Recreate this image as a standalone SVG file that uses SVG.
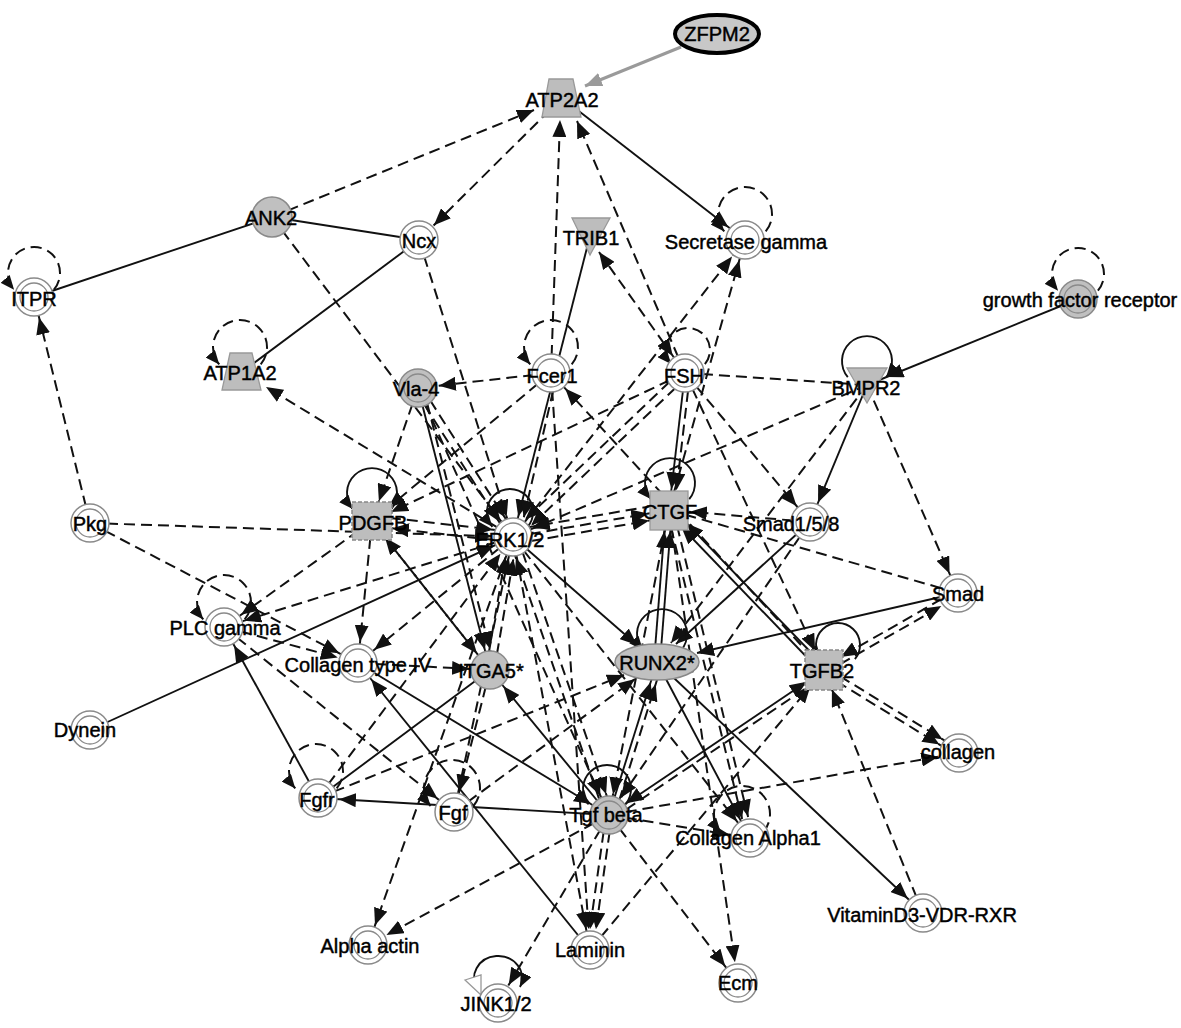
<svg xmlns="http://www.w3.org/2000/svg" width="1181" height="1028" viewBox="0 0 1181 1028">
<style>
.s{stroke:#111;stroke-width:1.9;fill:none}
.d{stroke:#111;stroke-width:2;fill:none;stroke-dasharray:11 6}
.zf{stroke:#9a9a9a;stroke-width:3;fill:none}
.o{fill:#fff;stroke:#8a8a8a;stroke-width:1.5}
.og{fill:#c0c0c0;stroke:#8a8a8a;stroke-width:1.5}
.i{fill:none;stroke:#8a8a8a;stroke-width:1.3}
.sh{fill:#bdbdbd;stroke:#999;stroke-width:1.3}
.shd{fill:#bdbdbd;stroke:#888;stroke-width:1.5;stroke-dasharray:4 2}
.t{font-family:"Liberation Sans",Arial,sans-serif;font-size:20px;fill:#000;stroke:#000;stroke-width:0.45;text-anchor:middle}
</style>
<defs>
<marker id="a" markerUnits="userSpaceOnUse" markerWidth="17" markerHeight="14" refX="38" refY="7" orient="auto-start-reverse"><path d="M0,0 L17,7 L0,14 z" fill="#111"/></marker>
<marker id="b" markerUnits="userSpaceOnUse" markerWidth="17" markerHeight="14" refX="17" refY="7" orient="auto-start-reverse"><path d="M0,0 L17,7 L0,14 z" fill="#111"/></marker>
<marker id="g" markerUnits="userSpaceOnUse" markerWidth="17" markerHeight="14" refX="17" refY="7" orient="auto"><path d="M0,0 L17,7 L0,14 z" fill="#9a9a9a"/></marker>
<marker id="l" markerUnits="userSpaceOnUse" markerWidth="14" markerHeight="12" refX="14" refY="6" orient="auto"><path d="M0,0 L14,6 L0,12 z" fill="#111"/></marker>
</defs>
<rect width="1181" height="1028" fill="#fff"/>
<g id="connectors">
<line class="zf" x1="681" y1="47" x2="585" y2="86" marker-end="url(#g)"/>
<line class="s" x1="272" y1="217" x2="34" y2="297"/>
<line class="s" x1="272" y1="217" x2="419" y2="240"/>
<line class="s" x1="419" y1="240" x2="242" y2="372"/>
<line class="s" x1="562" y1="98" x2="745" y2="240" marker-end="url(#a)"/>
<line class="s" x1="590" y1="236" x2="513" y2="537" marker-end="url(#a)"/>
<line class="s" x1="1078" y1="299" x2="867" y2="385" marker-end="url(#a)"/>
<line class="s" x1="867" y1="385" x2="810" y2="522" marker-end="url(#a)"/>
<line class="s" x1="685" y1="373" x2="669" y2="510" marker-end="url(#a)"/>
<line class="s" x1="810" y1="522" x2="676" y2="644" marker-end="url(#b)"/>
<line class="s" x1="958" y1="593" x2="697" y2="653" marker-end="url(#b)"/>
<line class="s" x1="657" y1="662" x2="923" y2="913" marker-end="url(#a)"/>
<line class="s" x1="654" y1="662" x2="666" y2="510" marker-end="url(#a)"/>
<line class="s" x1="660" y1="662" x2="672" y2="510" marker-end="url(#a)"/>
<line class="s" x1="609" y1="815" x2="657" y2="662" marker-end="url(#a)"/>
<line class="s" x1="513" y1="537" x2="637" y2="645" marker-end="url(#b)"/>
<line class="s" x1="609" y1="815" x2="824" y2="670" marker-start="url(#a)" marker-end="url(#a)"/>
<line class="s" x1="609" y1="815" x2="490" y2="670" marker-end="url(#a)"/>
<line class="s" x1="358" y1="663" x2="609" y2="815" marker-end="url(#a)"/>
<line class="s" x1="590" y1="950" x2="358" y2="663" marker-end="url(#a)"/>
<line class="s" x1="609" y1="815" x2="318" y2="798" marker-end="url(#a)"/>
<line class="s" x1="318" y1="798" x2="490" y2="670"/>
<line class="s" x1="318" y1="798" x2="224" y2="627" marker-end="url(#a)"/>
<line class="s" x1="90" y1="730" x2="513" y2="537" marker-end="url(#a)"/>
<line class="s" x1="418" y1="388" x2="490" y2="670" marker-end="url(#a)"/>
<line class="s" x1="657" y1="662" x2="750" y2="838" marker-end="url(#a)"/>
<line class="s" x1="672" y1="508" x2="826" y2="668" marker-start="url(#a)"/>
<line class="s" x1="667" y1="512" x2="821" y2="672" marker-start="url(#a)"/>

<line class="d" x1="272" y1="217" x2="534" y2="110" marker-end="url(#b)"/>
<line class="d" x1="562" y1="98" x2="419" y2="240" marker-end="url(#a)"/>
<line class="d" x1="551" y1="373" x2="560" y2="120" marker-end="url(#b)"/>
<line class="d" x1="685" y1="373" x2="577" y2="121" marker-end="url(#b)"/>
<line class="d" x1="599" y1="252" x2="685" y2="373" marker-start="url(#b)" marker-end="url(#a)"/>
<line class="d" x1="272" y1="217" x2="513" y2="537" marker-end="url(#a)"/>
<line class="d" x1="419" y1="240" x2="513" y2="537" marker-end="url(#a)"/>
<line class="d" x1="90" y1="523" x2="34" y2="297" marker-end="url(#a)"/>
<line class="d" x1="90" y1="523" x2="513" y2="537" marker-end="url(#a)"/>
<line class="d" x1="90" y1="523" x2="358" y2="663" marker-end="url(#a)"/>
<line class="d" x1="372" y1="521" x2="224" y2="627" marker-end="url(#a)"/>
<line class="d" x1="372" y1="521" x2="358" y2="663" marker-end="url(#a)"/>
<line class="d" x1="513" y1="537" x2="224" y2="627" marker-end="url(#a)"/>
<line class="d" x1="224" y1="627" x2="454" y2="812" marker-end="url(#a)"/>
<line class="d" x1="224" y1="627" x2="358" y2="663" marker-end="url(#a)"/>
<line class="d" x1="358" y1="663" x2="490" y2="670" marker-end="url(#a)"/>
<line class="d" x1="513" y1="537" x2="266" y2="387" marker-end="url(#b)"/>
<line class="d" x1="551" y1="373" x2="418" y2="388" marker-end="url(#a)"/>
<line class="d" x1="418" y1="388" x2="372" y2="521" marker-end="url(#a)"/>
<line class="d" x1="421" y1="386" x2="516" y2="535" marker-end="url(#a)"/>
<line class="d" x1="415" y1="390" x2="510" y2="539" marker-end="url(#a)"/>
<line class="d" x1="423" y1="387" x2="495" y2="669" marker-end="url(#a)"/>
<line class="d" x1="551" y1="373" x2="590" y2="950" marker-end="url(#a)"/>
<line class="d" x1="824" y1="670" x2="551" y2="373" marker-end="url(#a)"/>
<line class="d" x1="513" y1="537" x2="745" y2="240" marker-end="url(#a)"/>
<line class="d" x1="669" y1="510" x2="745" y2="240" marker-end="url(#a)"/>
<line class="d" x1="685" y1="373" x2="867" y2="385"/>
<line class="d" x1="688" y1="376" x2="516" y2="540" marker-end="url(#a)"/>
<line class="d" x1="682" y1="370" x2="510" y2="534" marker-end="url(#a)"/>
<line class="d" x1="690" y1="374" x2="674" y2="511" marker-end="url(#a)"/>
<line class="d" x1="685" y1="373" x2="810" y2="522" marker-end="url(#a)"/>
<line class="d" x1="685" y1="373" x2="824" y2="670" marker-end="url(#a)"/>
<line class="d" x1="867" y1="385" x2="671" y2="643" marker-end="url(#b)"/>
<line class="d" x1="867" y1="385" x2="513" y2="537" marker-end="url(#a)"/>
<line class="d" x1="867" y1="385" x2="958" y2="593" marker-end="url(#a)"/>
<line class="d" x1="810" y1="522" x2="669" y2="510" marker-end="url(#a)"/>
<line class="d" x1="513" y1="537" x2="669" y2="510" marker-end="url(#a)"/>
<line class="d" x1="514" y1="544" x2="670" y2="517" marker-end="url(#a)"/>
<line class="d" x1="670" y1="503" x2="512" y2="530" marker-end="url(#a)"/>
<line class="d" x1="669" y1="510" x2="609" y2="815" marker-end="url(#a)"/>
<line class="d" x1="673" y1="509" x2="753" y2="837" marker-end="url(#a)"/>
<line class="d" x1="667" y1="511" x2="747" y2="839" marker-end="url(#a)"/>
<line class="d" x1="669" y1="510" x2="738" y2="983" marker-end="url(#a)"/>
<line class="d" x1="825.5" y1="672.6" x2="959.5" y2="595.6" marker-end="url(#a)"/>
<line class="d" x1="956.5" y1="590.4" x2="822.5" y2="667.4" marker-end="url(#a)"/>
<line class="d" x1="825.6" y1="667.4" x2="960.6" y2="750.4" marker-end="url(#a)"/>
<line class="d" x1="822.4" y1="672.6" x2="957.4" y2="755.6" marker-end="url(#a)"/>
<line class="d" x1="923" y1="913" x2="824" y2="670" marker-end="url(#a)"/>
<line class="d" x1="609" y1="815" x2="959" y2="753" marker-end="url(#a)"/>
<line class="d" x1="612" y1="819" x2="827" y2="674"/>
<line class="d" x1="614" y1="817" x2="662" y2="664" marker-end="url(#a)"/>
<line class="d" x1="318" y1="798" x2="624" y2="675" marker-end="url(#b)"/>
<line class="d" x1="454" y1="812" x2="513" y2="537" marker-end="url(#a)"/>
<line class="d" x1="494" y1="671" x2="517" y2="538" marker-end="url(#a)"/>
<line class="d" x1="486" y1="669" x2="509" y2="536" marker-end="url(#a)"/>
<line class="d" x1="513" y1="537" x2="368" y2="945" marker-end="url(#a)"/>
<line class="d" x1="609" y1="815" x2="368" y2="945" marker-end="url(#a)"/>
<line class="d" x1="612" y1="815" x2="593" y2="950" marker-end="url(#a)"/>
<line class="d" x1="606" y1="815" x2="587" y2="950" marker-end="url(#a)"/>
<line class="d" x1="609" y1="815" x2="498" y2="1003" marker-end="url(#a)"/>
<line class="d" x1="609" y1="815" x2="738" y2="983" marker-end="url(#a)"/>
<line class="d" x1="590" y1="950" x2="824" y2="670" marker-end="url(#a)"/>
<line class="d" x1="513" y1="537" x2="750" y2="838" marker-end="url(#a)"/>
<line class="d" x1="373" y1="516" x2="514" y2="532" marker-end="url(#a)"/>
<line class="d" x1="512" y1="542" x2="371" y2="526" marker-end="url(#a)"/>
<line class="d" x1="490" y1="670" x2="372" y2="521" marker-end="url(#a)"/>
<line class="d" x1="551" y1="373" x2="372" y2="521" marker-end="url(#a)"/>
<line class="d" x1="685" y1="373" x2="372" y2="521" marker-end="url(#a)"/>
<line class="d" x1="517" y1="536" x2="613" y2="814" marker-end="url(#a)"/>
<line class="d" x1="605" y1="816" x2="509" y2="538" marker-end="url(#a)"/>
<line class="d" x1="513" y1="537" x2="590" y2="950" marker-end="url(#a)"/>
<line class="d" x1="669" y1="510" x2="958" y2="593"/>
<line class="d" x1="557" y1="374" x2="519" y2="538" marker-end="url(#a)"/>
<line class="d" x1="418" y1="388" x2="609" y2="815" marker-end="url(#a)"/>
<line class="d" x1="810" y1="522" x2="609" y2="815" marker-end="url(#a)"/>
<line class="d" x1="318" y1="798" x2="513" y2="537" marker-end="url(#a)"/>
<line class="d" x1="490" y1="670" x2="454" y2="812" marker-end="url(#a)"/>
<line class="d" x1="454" y1="812" x2="635" y2="679" marker-end="url(#b)"/>
<line class="d" x1="609" y1="815" x2="750" y2="838" marker-end="url(#a)"/>
<line class="d" x1="513" y1="537" x2="358" y2="663" marker-end="url(#a)"/>
<line class="d" x1="372" y1="521" x2="490" y2="670" marker-end="url(#a)"/>

<path class="d" d="M53.9,289.7 A26,26 0 1 0 14.1,289.7" marker-end="url(#l)"/>
<path class="d" d="M765.7,231.4 A27,27 0 1 0 724.3,231.4" marker-end="url(#l)"/>
<path class="d" d="M1097.9,290.7 A26,26 0 1 0 1058.1,290.7" marker-end="url(#l)"/>
<path class="d" d="M260.7,364.4 A27,27 0 1 0 219.3,364.4" marker-end="url(#l)"/>
<path class="d" d="M571.7,364.4 A27,27 0 1 0 530.3,364.4" marker-end="url(#l)"/>
<path class="d" d="M704.9,364.1 A22,22 0 1 0 671.1,364.1" marker-end="url(#l)"/>
<path class="d" d="M244.7,619.4 A27,27 0 1 0 203.3,619.4" marker-end="url(#l)"/>
<path class="d" d="M336.7,788.4 A27,27 0 1 0 295.3,788.4" marker-end="url(#l)"/>
<path class="d" d="M473.4,806 A28,28 0 1 0 430.6,806" marker-end="url(#l)"/>
<path class="d" d="M763.4,832 A28,28 0 1 0 720.6,832" marker-end="url(#l)"/>
<path class="s" d="M391.2,509.1 A25,25 0 1 0 352.8,509.1" marker-end="url(#l)"/>
<path class="s" d="M689.2,499.1 A25,25 0 1 0 650.8,499.1" marker-end="url(#l)"/>
<path class="s" d="M847.8,377.1 A25,25 0 1 1 886.2,377.1" marker-end="url(#l)"/>
<path class="s" d="M527.6,526.8 A23,23 0 1 0 492.4,526.8" marker-end="url(#l)"/>
<path class="s" d="M681.2,650.1 A25,25 0 1 0 642.8,650.1" marker-end="url(#l)"/>
<path class="s" d="M625.4,804.4 A24,24 0 1 0 588.6,804.4" marker-end="url(#l)"/>
<path class="s" d="M854.9,659.1 A22,22 0 1 0 821.1,659.1" marker-end="url(#l)"/>
<path class="s" d="M478,990 A24,22 0 1 1 520,987" marker-end="url(#l)"/>
<polygon points="465,980 481,975 481,995" fill="#fff" stroke="#999" stroke-width="1.3"/>
</g>

<g id="n-zfpm2"><ellipse cx="717" cy="34" rx="42" ry="19" fill="#c8c8c8" stroke="#000" stroke-width="4"/><text class="t" x="717" y="41">ZFPM2</text></g>
<g id="n-atp2a2"><polygon class="sh" points="549,79 573,79 581,117 542,117"/><text class="t" x="562" y="107">ATP2A2</text></g>
<g id="n-ank2"><circle class="og" cx="272" cy="217" r="20"/><text class="t" x="271" y="225">ANK2</text></g>
<g id="n-ncx"><circle class="o" cx="419" cy="240" r="19"/><circle class="i" cx="419" cy="240" r="14"/><text class="t" x="419" y="248">Ncx</text></g>
<g id="n-trib1"><polygon class="sh" points="572,218 610,218 590,255"/><text class="t" x="591" y="245">TRIB1</text></g>
<g id="n-secg"><circle class="o" cx="745" cy="240" r="19"/><circle class="i" cx="745" cy="240" r="14"/><text class="t" x="746" y="249">Secretase gamma</text></g>
<g id="n-itpr"><circle class="o" cx="34" cy="297" r="19"/><circle class="i" cx="34" cy="297" r="14"/><text class="t" x="34" y="306">ITPR</text></g>
<g id="n-gfr"><circle class="og" cx="1078" cy="299" r="19"/><circle class="i" cx="1078" cy="299" r="14"/><text class="t" x="1080" y="307">growth factor receptor</text></g>
<g id="n-atp1a2"><polygon class="sh" points="230,353 252,353 261,390 222,390"/><text class="t" x="240" y="380">ATP1A2</text></g>
<g id="n-vla4"><circle class="og" cx="418" cy="388" r="19"/><circle class="i" cx="418" cy="388" r="14"/><text class="t" x="416" y="396">Vla-4</text></g>
<g id="n-fcer1"><circle class="o" cx="551" cy="373" r="19"/><circle class="i" cx="551" cy="373" r="14"/><text class="t" x="552" y="383">Fcer1</text></g>
<g id="n-fsh"><circle class="o" cx="685" cy="373" r="19"/><circle class="i" cx="685" cy="373" r="14"/><text class="t" x="684" y="383">FSH</text></g>
<g id="n-bmpr2"><polygon class="sh" points="847,368 887,368 867,403"/><text class="t" x="866" y="395">BMPR2</text></g>
<g id="n-pkg"><circle class="o" cx="90" cy="523" r="19"/><circle class="i" cx="90" cy="523" r="14"/><text class="t" x="90" y="531">Pkg</text></g>
<g id="n-pdgfb"><rect class="shd" x="352" y="502" width="40" height="38"/><text class="t" x="373" y="530">PDGFB</text></g>
<g id="n-erk"><circle class="o" cx="513" cy="537" r="19"/><circle class="i" cx="513" cy="537" r="14"/><text class="t" x="510" y="547">ERK1/2</text></g>
<g id="n-ctgf"><rect class="sh" x="650" y="491" width="38" height="39"/><text class="t" x="670" y="519">CTGF</text></g>
<g id="n-smad158"><circle class="o" cx="810" cy="522" r="19"/><circle class="i" cx="810" cy="522" r="14"/><text class="t" x="791" y="531">Smad1/5/8</text></g>
<g id="n-smad"><circle class="o" cx="958" cy="593" r="19"/><circle class="i" cx="958" cy="593" r="14"/><text class="t" x="958" y="601">Smad</text></g>
<g id="n-plcg"><circle class="o" cx="224" cy="627" r="19"/><circle class="i" cx="224" cy="627" r="14"/><text class="t" x="225" y="635">PLC gamma</text></g>
<g id="n-col4"><circle class="o" cx="358" cy="663" r="19"/><circle class="i" cx="358" cy="663" r="14"/><text class="t" x="358" y="672">Collagen type IV</text></g>
<g id="n-itga5"><circle class="og" cx="490" cy="670" r="19"/><text class="t" x="491" y="678">ITGA5*</text></g>
<g id="n-runx2"><ellipse cx="657" cy="662" rx="42" ry="18" fill="#c0c0c0" stroke="#888" stroke-width="1.5"/><text class="t" x="657" y="670">RUNX2*</text></g>
<g id="n-tgfb2"><rect class="shd" x="805" y="650" width="38" height="40"/><text class="t" x="822" y="678">TGFB2</text></g>
<g id="n-dynein"><circle class="o" cx="90" cy="730" r="19"/><circle class="i" cx="90" cy="730" r="14"/><text class="t" x="85" y="737">Dynein</text></g>
<g id="n-collagen"><circle class="o" cx="959" cy="753" r="19"/><circle class="i" cx="959" cy="753" r="14"/><text class="t" x="958" y="759">collagen</text></g>
<g id="n-fgfr"><circle class="o" cx="318" cy="798" r="19"/><circle class="i" cx="318" cy="798" r="14"/><text class="t" x="317" y="807">Fgfr</text></g>
<g id="n-fgf"><circle class="o" cx="454" cy="812" r="19"/><circle class="i" cx="454" cy="812" r="14"/><text class="t" x="453" y="820">Fgf</text></g>
<g id="n-tgfb"><circle class="og" cx="609" cy="815" r="19"/><circle class="i" cx="609" cy="815" r="14"/><text class="t" x="606" y="822">Tgf beta</text></g>
<g id="n-cola1"><circle class="o" cx="750" cy="838" r="19"/><circle class="i" cx="750" cy="838" r="14"/><text class="t" x="748" y="845">Collagen Alpha1</text></g>
<g id="n-vitd"><circle class="o" cx="923" cy="913" r="19"/><circle class="i" cx="923" cy="913" r="14"/><text class="t" x="922" y="922">VitaminD3-VDR-RXR</text></g>
<g id="n-alphaactin"><circle class="o" cx="368" cy="945" r="19"/><circle class="i" cx="368" cy="945" r="14"/><text class="t" x="370" y="953">Alpha actin</text></g>
<g id="n-laminin"><circle class="o" cx="590" cy="950" r="19"/><circle class="i" cx="590" cy="950" r="14"/><text class="t" x="590" y="957">Laminin</text></g>
<g id="n-ecm"><circle class="o" cx="738" cy="983" r="19"/><circle class="i" cx="738" cy="983" r="14"/><text class="t" x="738" y="990">Ecm</text></g>
<g id="n-jink"><circle class="o" cx="498" cy="1003" r="19"/><circle class="i" cx="498" cy="1003" r="14"/><text class="t" x="496" y="1011">JINK1/2</text></g>
</svg>
